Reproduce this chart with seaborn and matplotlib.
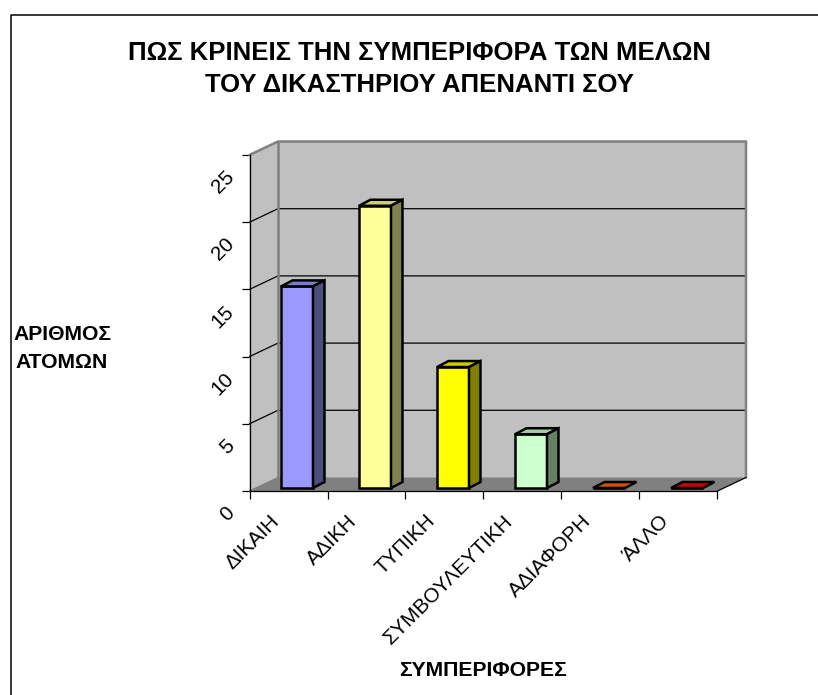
import matplotlib
matplotlib.use("Agg")
import matplotlib.pyplot as plt
import seaborn as sns
import pandas as pd
from matplotlib.lines import Line2D
from matplotlib.patches import Polygon, Rectangle
from matplotlib.transforms import Affine2D, IdentityTransform

categories = ["ΔΙΚΑΙΗ", "ΑΔΙΚΗ", "ΤΥΠΙΚΗ", "ΣΥΜΒΟΥΛΕΥΤΙΚΗ", "ΑΔΙΑΦΟΡΗ", "ΆΛΛΟ"]
values = [15, 21, 9, 4, 0, 0]
front_colors = ["#9999FF", "#FFFF99", "#FFFF00", "#CCFFCC", "#FF6600", "#FF0000"]
top_colors = ["#7A7ACC", "#CCCC7A", "#CCCC00", "#A3CCA3", "#CC5200", "#CC0000"]
side_colors = ["#4D4D80", "#808050", "#808000", "#668066", "#803300", "#800000"]
y_ticks = [0, 5, 10, 15, 20, 25]
title_text = "ΠΩΣ ΚΡΙΝΕΙΣ ΤΗΝ ΣΥΜΠΕΡΙΦΟΡΑ ΤΩΝ ΜΕΛΩΝ\nΤΟΥ ΔΙΚΑΣΤΗΡΙΟΥ ΑΠΕΝΑΝΤΙ ΣΟΥ"
y_title = "ΑΡΙΘΜΟΣ\nΑΤΟΜΩΝ"
x_title = "ΣΥΜΠΕΡΙΦΟΡΕΣ"

W, H = 818, 695
sns.set_theme(style="white")
plt.rcParams["font.family"] = ["Liberation Sans", "DejaVu Sans"]

fig = plt.figure(figsize=(W / 100, H / 100), dpi=100, facecolor="white")
L, R, T, B = 249.5, 717.5, 155.0, 491.0
ax = fig.add_axes([L / W, (H - B) / H, (R - L) / W, (B - T) / H])
ax.patch.set_alpha(0)

df = pd.DataFrame({"cat": categories, "val": values})
sns.barplot(data=df, x="cat", y="val", hue="cat", palette=front_colors, dodge=False,
            width=0.41, edgecolor="black", linewidth=1.8, saturation=1, legend=False,
            ax=ax, zorder=5)
ax.set_xlim(-0.5, len(categories) - 0.5)
ax.set_ylim(0, 25)

# outer chart frame: only the top and left edges fall inside the picture
fig.add_artist(Line2D([10.5, 10.5, W], [0, H - 14.5, H - 14.5], transform=IdentityTransform(),
                      color="black", linewidth=1.1))

# 3-D box: back wall, side wall, floor
DX, DY = 28.5, 13.5
to_px = ax.transData.transform
x0, x1 = ax.get_xlim()
def pt(x, y, dx=0.0, dy=0.0):
    px, py = to_px((x, y))
    return (px + dx, py + dy)
def poly(points, **kw):
    p = Polygon(points, closed=True, transform=IdentityTransform(), clip_on=False, **kw)
    ax.add_patch(p)
    return p

poly([pt(x0, 0, DX, DY), pt(x1, 0, DX, DY), pt(x1, 25, DX, DY), pt(x0, 25, DX, DY)],
     facecolor="#C0C0C0", edgecolor="none", zorder=1)
poly([pt(x0, 0), pt(x0, 0, DX, DY), pt(x0, 25, DX, DY), pt(x0, 25)],
     facecolor="#C0C0C0", edgecolor="none", zorder=1)
poly([pt(x0, 0), pt(x1, 0), pt(x1, 0, DX, DY), pt(x0, 0, DX, DY)],
     facecolor="#808080", edgecolor="none", zorder=1.5)

back = IdentityTransform()
for v in y_ticks[1:-1]:
    a, b, c = pt(x0, v), pt(x0, v, DX, DY), pt(x1, v, DX, DY)
    ax.plot([a[0], b[0], c[0]], [a[1], b[1], c[1]], color="black", lw=0.9,
            transform=back, clip_on=False, zorder=2)
a, b, c, d = pt(x0, 25), pt(x0, 25, DX, DY), pt(x1, 25, DX, DY), pt(x1, 0, DX, DY)
ax.plot([a[0], b[0], c[0], d[0]], [a[1], b[1], c[1], d[1]], color="#808080", lw=1.8,
        transform=back, clip_on=False, zorder=2, solid_joinstyle="miter")
e, f = pt(x0, 0, DX, DY), pt(x0, 25, DX, DY)
ax.plot([e[0], f[0]], [e[1], f[1]], color="#808080", lw=1.8, transform=back,
        clip_on=False, zorder=2)
i, j = pt(x1, 0), pt(x1, 0, DX, DY)
ax.plot([i[0], j[0]], [i[1], j[1]], color="black", lw=0.9, transform=back,
        clip_on=False, zorder=2)
k, l = pt(x0, 0), pt(x0, 0, DX, DY)
ax.plot([k[0], l[0]], [k[1], l[1]], color="#808080", lw=0.9, transform=back,
        clip_on=False, zorder=2)

# bars: pushed into the box, with drawn top and side faces
BX, BY = 8.5, 3.0
SX, SY = 11.5, 6.0
shift = Affine2D().translate(BX, BY)
for n, bar in enumerate([p for p in ax.patches if isinstance(p, Rectangle)]):
    bar.set_transform(ax.transData + shift)
    bar.set_clip_on(False)
    x, w, hgt = bar.get_x(), bar.get_width(), bar.get_height()
    tl, tr = pt(x, hgt, BX, BY), pt(x + w, hgt, BX, BY)
    br = pt(x + w, 0, BX, BY)
    poly([tl, tr, (tr[0] + SX, tr[1] + SY), (tl[0] + SX, tl[1] + SY)],
         facecolor=top_colors[n], edgecolor="black", linewidth=1.8, zorder=5, joinstyle="miter")
    if hgt > 0:
        poly([br, tr, (tr[0] + SX, tr[1] + SY), (br[0] + SX, br[1] + SY)],
             facecolor=side_colors[n], edgecolor="black", linewidth=1.8, zorder=5, joinstyle="miter")

# axes and ticks
sns.despine(ax=ax, top=True, right=True)
for s in ("left", "bottom"):
    ax.spines[s].set_color("black")
    ax.spines[s].set_linewidth(0.9)
    ax.spines[s].set_zorder(4)

ax.set_xlabel("")
ax.set_ylabel("")
edges = [i - 0.5 for i in range(len(categories) + 1)]
ax.set_xticks(edges)
ax.set_xticklabels([])
ax.set_xticks(range(len(categories)), minor=True)
ax.set_xticklabels(categories, minor=True, rotation=45, ha="right", va="top",
                   rotation_mode="anchor", fontsize=14.9, color="black")
ax.tick_params(axis="x", which="major", length=5.5, width=0.9, color="black", bottom=True)
ax.tick_params(axis="x", which="minor", length=0, pad=11, bottom=True)
left = Affine2D().translate(-19, -5)
for lab in ax.get_xticklabels(minor=True):
    lab.set_transform(lab.get_transform() + left)

ax.set_yticks(y_ticks)
ax.set_yticklabels([str(v) for v in y_ticks], rotation=45, fontsize=14.9, color="black")
ax.tick_params(axis="y", length=5.5, width=0.9, color="black", left=True, pad=3)
down = Affine2D().translate(0, -20)
for lab in ax.get_yticklabels():
    lab.set_transform(lab.get_transform() + down)

fig.text(419 / W, 1 - 69 / H, title_text, ha="center", va="center", fontsize=18.5,
         fontweight="bold", color="black", linespacing=1.45)
fig.text(62 / W, 1 - 348.5 / H, y_title, ha="center", va="center", fontsize=15.2,
         fontweight="bold", color="black", linespacing=1.55)
fig.text(483.5 / W, 1 - 671 / H, x_title, ha="center", va="center", fontsize=15.2,
         fontweight="bold", color="black")

fig.savefig("out.png", dpi=100, facecolor="white")
